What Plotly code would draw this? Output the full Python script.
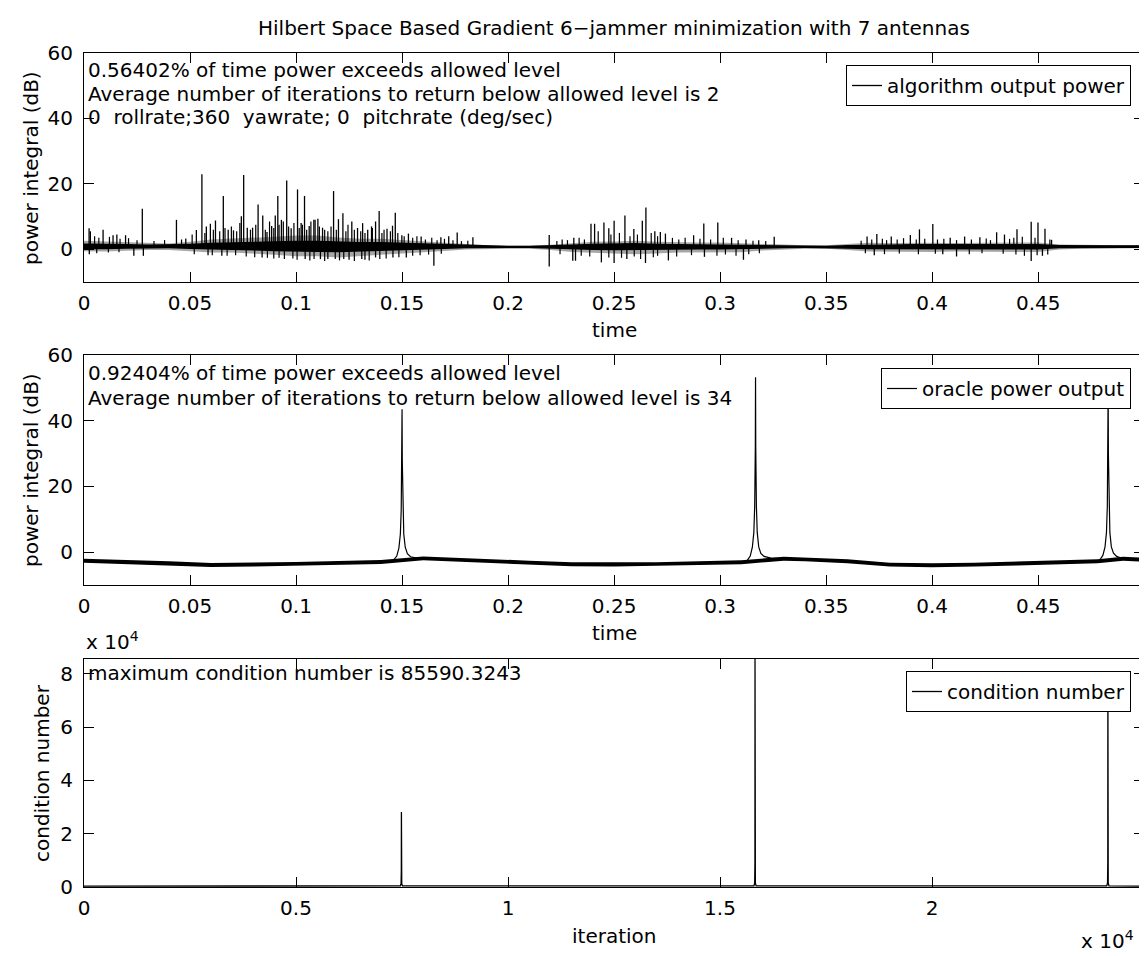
import plotly.graph_objects as go

# ---------------- data ----------------
TITLE = "Hilbert Space Based Gradient 6\u2212jammer minimization with 7 antennas"

time_ticks = [0, 0.05, 0.1, 0.15, 0.2, 0.25, 0.3, 0.35, 0.4, 0.45]
time_tick_labels = ["0", "0.05", "0.1", "0.15", "0.2", "0.25", "0.3", "0.35", "0.4", "0.45"]
power_ticks = [0, 20, 40, 60]
power_tick_labels = ["0", "20", "40", "60"]
iter_ticks = [0, 5000, 10000, 15000, 20000]
iter_tick_labels = ["0", "0.5", "1", "1.5", "2"]
cond_ticks = [0, 20000, 40000, 60000, 80000]
cond_tick_labels = ["0", "2", "4", "6", "8"]

# --- top panel: algorithm output power (dB) ---
alg_band_t = [0, 0.01, 0.02, 0.03, 0.04, 0.05, 0.06, 0.07, 0.08, 0.09,
              0.10, 0.11, 0.12, 0.13, 0.14, 0.15, 0.16, 0.17, 0.18, 0.19,
              0.20, 0.21, 0.22, 0.23, 0.24, 0.25, 0.26, 0.27, 0.28, 0.29,
              0.30, 0.31, 0.32, 0.33, 0.34, 0.35, 0.36, 0.37, 0.38, 0.39,
              0.40, 0.41, 0.42, 0.43, 0.44, 0.45, 0.46, 0.47, 0.48, 0.49, 0.4999]
alg_outer_hi = [2.6, 2.4, 2.0, 1.8, 1.8, 2.3, 3.0, 3.3, 3.5, 3.8,
                4.2, 4.2, 3.6, 3.2, 3.2, 2.8, 2.3, 1.9, 1.5, 1.2,
                1.1, 1.1, 1.4, 1.9, 2.3, 2.4, 2.6, 2.3, 2.1, 2.1,
                2.1, 1.9, 1.6, 1.3, 1.2, 1.2, 1.5, 2.0, 1.9, 2.0,
                2.0, 1.9, 1.9, 2.0, 2.1, 2.1, 1.5, 1.3, 1.3, 1.3, 1.3]
alg_outer_lo = [-0.6, -0.7, -0.4, -0.2, -0.2, -0.6, -1.0, -1.0, -1.3, -1.7,
                -2.1, -2.1, -2.5, -2.1, -1.7, -1.3, -1.0, -0.5, -0.1, 0.1,
                0.2, 0.2, -0.2, -0.8, -1.1, -1.3, -1.5, -1.3, -1.0, -0.9,
                -0.9, -0.9, -0.4, 0.0, 0.2, 0.2, -0.2, -0.7, -0.7, -0.8,
                -0.8, -0.7, -0.7, -0.7, -0.8, -0.8, -0.1, 0.2, 0.3, 0.3, 0.3]
alg_inner_hi = [1.8, 1.8, 1.6, 1.5, 1.5, 1.7, 2.0, 2.2, 2.3, 2.5,
                2.6, 2.6, 2.3, 2.2, 2.2, 2.0, 1.8, 1.6, 1.3, 1.1,
                1.1, 1.1, 1.2, 1.5, 1.7, 1.8, 1.9, 1.7, 1.6, 1.6,
                1.6, 1.5, 1.3, 1.2, 1.1, 1.1, 1.3, 1.5, 1.5, 1.6,
                1.6, 1.5, 1.5, 1.6, 1.6, 1.6, 1.3, 1.2, 1.2, 1.2, 1.2]
alg_inner_lo = [0.0, 0.0, 0.2, 0.3, 0.3, 0.1, -0.2, -0.3, -0.4, -0.6,
                -0.8, -0.8, -0.9, -0.7, -0.5, -0.3, -0.1, 0.1, 0.3, 0.4,
                0.4, 0.4, 0.3, 0.0, -0.2, -0.3, -0.4, -0.3, -0.2, -0.1,
                -0.1, -0.1, 0.1, 0.3, 0.4, 0.4, 0.2, 0.0, 0.0, -0.1,
                -0.1, 0.0, 0.0, 0.0, -0.1, -0.1, 0.3, 0.4, 0.4, 0.4, 0.4]
alg_spike_base = 0.8
# distinct spikes (upward then downward)
alg_spike_t = [0.0024, 0.003, 0.009, 0.0137, 0.0155, 0.0196, 0.0275, 0.0436, 0.048, 0.053,
               0.0556, 0.0577, 0.0596, 0.062, 0.0657, 0.068, 0.0705, 0.0742, 0.0753, 0.077,
               0.0795, 0.0821, 0.0843, 0.0863, 0.0885, 0.0902, 0.0914, 0.0931, 0.0956, 0.0977,
               0.1007, 0.1024, 0.104, 0.1062, 0.1084, 0.1103, 0.1125, 0.1177, 0.12, 0.1221,
               0.1263, 0.129, 0.1314, 0.1338, 0.1356, 0.1375, 0.1392, 0.1429, 0.1455, 0.1468,
               0.1499, 0.153, 0.159, 0.1683, 0.172, 0.176, 0.1834, 0.2194, 0.231, 0.2391,
               0.2408, 0.2452, 0.2475, 0.25, 0.2551, 0.2593, 0.2633, 0.265, 0.2692, 0.2718,
               0.2742, 0.2875, 0.2923, 0.2989, 0.3054, 0.3122, 0.3182, 0.3255, 0.3693, 0.3739,
               0.3807, 0.3897, 0.394, 0.4003, 0.4085, 0.4153, 0.4225, 0.4304, 0.4341, 0.44,
               0.4467, 0.4499, 0.4532, 0.4563,
               0.0025, 0.0235, 0.028, 0.0585, 0.065, 0.084, 0.1043, 0.1115, 0.115, 0.125,
               0.131, 0.1325, 0.1375, 0.1457, 0.152, 0.165, 0.2194, 0.2305, 0.2318, 0.244,
               0.25, 0.256, 0.2648, 0.2756, 0.2926, 0.311, 0.3727, 0.405, 0.4115, 0.4467, 0.452]
alg_spike_v = [6.4, 5.5, 6.0, 4.3, 4.5, 4.3, 12.4, 9.0, 3.3, 5.9,
               22.9, 7.0, 7.8, 8.8, 16.3, 6.0, 5.8, 10.1, 22.7, 6.6,
               6.6, 13.7, 10.3, 5.3, 7.1, 10.3, 16.3, 9.0, 21.0, 6.4,
               18.3, 8.0, 16.3, 7.1, 9.0, 9.3, 6.6, 17.8, 9.2, 11.0,
               8.5, 6.5, 8.0, 6.0, 7.0, 8.5, 11.7, 6.3, 7.2, 11.2,
               4.3, 4.8, 3.9, 3.7, 4.0, 5.1, 3.7, 4.4, 3.5, 7.8,
               7.8, 8.2, 6.4, 8.7, 10.3, 6.2, 8.7, 12.8, 5.5, 5.3,
               4.8, 4.3, 7.9, 8.2, 3.5, 3.0, 2.8, 3.8, 3.9, 4.7,
               3.9, 4.4, 6.1, 7.7, 3.5, 3.9, 3.7, 5.2, 4.5, 6.1,
               8.4, 8.2, 6.3, 2.9,
               -1.5, -2.0, -2.0, -1.8, -2.0, -2.5, -3.0, -3.0, -3.0, -3.2,
               -3.0, -3.2, -2.5, -2.5, -2.5, -5.0, -5.3, -3.5, -3.5, -4.0,
               -4.2, -3.0, -4.2, -3.4, -2.3, -3.2, -1.8, -1.5, -2.2, -3.6, -2.0]
# the dense "grass" of small excursions
alg_grass_t = [0.005, 0.007, 0.012, 0.017, 0.021, 0.025, 0.033, 0.038, 0.046, 0.051,
               0.057, 0.061, 0.064, 0.0665, 0.0695, 0.072, 0.0735, 0.0785, 0.081, 0.0855,
               0.0875, 0.0895, 0.092, 0.094, 0.0965, 0.099, 0.1015, 0.103, 0.105, 0.107,
               0.109, 0.111, 0.1135, 0.115, 0.1165, 0.119, 0.1235, 0.1245, 0.1275, 0.1305,
               0.1325, 0.136, 0.1405, 0.1415, 0.1445, 0.148, 0.151, 0.155, 0.157, 0.161,
               0.164, 0.1665, 0.170, 0.174, 0.178, 0.181, 0.223, 0.2255, 0.228, 0.2335,
               0.236, 0.2425, 0.2485, 0.2525, 0.2575, 0.261, 0.2675, 0.2705, 0.2775, 0.2805,
               0.2835, 0.2905, 0.2955, 0.3015, 0.3085, 0.3155, 0.3215, 0.3665, 0.3715, 0.3765,
               0.3785, 0.3835, 0.3865, 0.3925, 0.3965, 0.4025, 0.4055, 0.4115, 0.4185, 0.4255,
               0.4275, 0.4365, 0.4385, 0.4425, 0.4485, 0.4555,
               0.006, 0.0115, 0.0165, 0.052, 0.0605, 0.0675, 0.0715, 0.0765, 0.0805, 0.0865,
               0.0895, 0.092, 0.0945, 0.0985, 0.1005, 0.1065, 0.1085, 0.1135, 0.1185, 0.1205,
               0.1225, 0.1275, 0.1345, 0.1395, 0.1425, 0.1485, 0.155, 0.1585, 0.1625, 0.1685,
               0.2245, 0.2345, 0.2385, 0.2475, 0.2535, 0.2595, 0.2625, 0.2685, 0.2705, 0.2795,
               0.2865, 0.2985, 0.3025, 0.3075, 0.3135, 0.3185, 0.3685, 0.3775, 0.3845, 0.3935,
               0.4015, 0.4175, 0.4235, 0.4335, 0.4395, 0.4435, 0.4495, 0.4545]
alg_grass_v = [4.0, 3.5, 3.8, 3.2, 3.4, 2.8, 2.5, 2.8, 3.0, 4.5,
               5.0, 6.0, 5.5, 6.5, 7.0, 5.5, 8.0, 6.0, 7.5, 6.0,
               8.5, 6.5, 7.5, 8.5, 7.0, 8.0, 6.5, 7.5, 6.0, 8.5,
               9.0, 7.0, 6.0, 5.5, 7.0, 6.0, 5.5, 7.5, 6.0, 5.5,
               5.0, 6.5, 5.0, 6.0, 5.5, 5.0, 4.0, 3.5, 4.0, 3.0,
               3.5, 2.8, 3.2, 2.8, 2.5, 2.6, 2.5, 3.0, 2.8, 3.5,
               3.0, 5.5, 4.5, 5.0, 4.0, 4.5, 5.0, 4.0, 3.5, 3.0,
               3.5, 3.2, 3.0, 3.5, 2.8, 2.6, 2.5, 2.6, 3.0, 3.2,
               2.8, 3.0, 3.4, 3.0, 3.2, 3.0, 3.2, 2.8, 3.0, 3.3,
               2.8, 3.2, 3.5, 3.8, 3.5, 3.0,
               -1.2, -1.0, -0.9, -1.5, -1.8, -2.0, -1.8, -2.2, -2.4, -2.6,
               -2.8, -2.6, -3.0, -2.8, -3.2, -3.4, -3.0, -3.6, -3.0, -3.4,
               -3.0, -3.6, -3.4, -3.0, -2.8, -2.4, -2.0, -1.8, -1.6, -1.4,
               -1.5, -2.0, -2.2, -2.5, -2.6, -2.2, -3.0, -2.4, -2.0, -2.2,
               -1.8, -2.0, -1.6, -2.0, -1.5, -1.2, -1.2, -1.5, -1.3, -1.5,
               -1.4, -1.5, -1.2, -1.4, -1.6, -2.0, -1.8, -1.6]

# --- middle panel: oracle power output (dB) ---
oracle_t = [0, 0.02, 0.04, 0.06, 0.08, 0.10, 0.12, 0.14, 0.146, 0.1475,
            0.1485, 0.1492, 0.1496, 0.1499, 0.15, 0.1501, 0.1504, 0.1508, 0.1515, 0.1525,
            0.154, 0.157, 0.17, 0.19, 0.21, 0.23, 0.25, 0.27, 0.29, 0.31,
            0.3127, 0.3142, 0.3152, 0.3159, 0.3163, 0.3166, 0.3167, 0.3168, 0.3171, 0.3175,
            0.3182, 0.3192, 0.3207, 0.324, 0.34, 0.36, 0.38, 0.40, 0.42, 0.44,
            0.46, 0.478, 0.479, 0.4805, 0.4815, 0.4822, 0.4826, 0.4829, 0.483, 0.4831,
            0.4834, 0.4838, 0.4845, 0.4855, 0.487, 0.49, 0.4999]
oracle_v = [-2.6, -2.9, -3.4, -3.9, -3.8, -3.6, -3.3, -3.0, -2.4, -1.2,
            1.2, 5.5, 13, 28, 43.5, 28, 13, 5.5, 1.5, -0.5,
            -1.4, -1.8, -2.2, -2.7, -3.2, -3.7, -3.8, -3.7, -3.4, -3.1,
            -2.6, -1.2, 1.5, 6, 14, 32, 53.2, 32, 14, 6,
            1.6, -0.4, -1.3, -1.8, -2.2, -2.8, -3.8, -4.0, -3.8, -3.5,
            -3.2, -2.8, -2.4, -1.0, 1.5, 6, 14, 30, 50, 30,
            14, 6, 1.6, -0.3, -1.3, -2.0, -2.3]
oracle_band_t = [0, 0.02, 0.04, 0.06, 0.08, 0.10, 0.12, 0.14, 0.16, 0.17,
                 0.19, 0.21, 0.23, 0.25, 0.27, 0.29, 0.31, 0.33, 0.34, 0.36,
                 0.38, 0.40, 0.42, 0.44, 0.46, 0.478, 0.49, 0.4999]
oracle_band_hi = [-2.0, -2.3, -2.8, -3.3, -3.2, -3.0, -2.7, -2.4, -1.3, -1.6,
                  -2.1, -2.6, -3.1, -3.2, -3.1, -2.8, -2.5, -1.4, -1.6, -2.2,
                  -3.2, -3.4, -3.2, -2.9, -2.6, -2.2, -1.4, -1.7]
oracle_band_lo = [-3.2, -3.5, -4.0, -4.5, -4.4, -4.2, -3.9, -3.6, -2.5, -2.8,
                  -3.3, -3.8, -4.3, -4.4, -4.3, -4.0, -3.7, -2.6, -2.8, -3.4,
                  -4.4, -4.6, -4.4, -4.1, -3.8, -3.4, -2.6, -2.9]

# --- bottom panel: condition number vs iteration ---
cond_iter = [0, 2500, 5000, 7460, 7478, 7484, 7486, 7488, 7494, 7512,
             10000, 12500, 15800, 15818, 15824, 15826, 15828, 15834, 15852, 18000,
             21000, 24122, 24140, 24146, 24148, 24150, 24156, 24174, 25000]
cond_val = [350, 300, 350, 400, 1200, 6000, 28200, 6000, 1200, 400,
            350, 300, 400, 1500, 9000, 85590, 9000, 1500, 400, 350,
            300, 400, 1500, 9000, 81000, 9000, 1500, 400, 350]

text_top = ["0.56402% of time power exceeds allowed level",
            "Average number of iterations to return below allowed level is 2",
            "0  rollrate;360  yawrate; 0  pitchrate (deg/sec)"]
text_mid = ["0.92404% of time power exceeds allowed level",
            "Average number of iterations to return below allowed level is 34"]
text_bot = ["maximum condition number is 85590.3243"]

# ---------------- layout geometry (pixels) ----------------
W, H = 1147, 956
L, R, T, B = 76, 11, 45, 77
PW, PH = W - L - R, H - T - B


def px(x):
    return (x - L) / PW


def py(y):
    return (H - B - y) / PH


FONT = "DejaVu Sans"
FS = 20
BLACK = "#000000"

fig = go.Figure()


def spikes(ts, vs, base):
    xs, ys = [], []
    for t, v in zip(ts, vs):
        xs += [t, t, None]
        ys += [base, v, None]
    return xs, ys


# top panel
fig.add_trace(go.Scatter(x=alg_band_t + alg_band_t[::-1], y=alg_outer_hi + alg_outer_lo[::-1],
                         fill="toself", fillcolor="rgba(0,0,0,0.35)", line=dict(width=0),
                         mode="lines", showlegend=False, hoverinfo="skip", xaxis="x", yaxis="y"))
fig.add_trace(go.Scatter(x=alg_band_t + alg_band_t[::-1], y=alg_inner_hi + alg_inner_lo[::-1],
                         fill="toself", fillcolor=BLACK, line=dict(width=0),
                         mode="lines", showlegend=False, hoverinfo="skip", xaxis="x", yaxis="y"))
gx, gy = spikes(alg_grass_t, alg_grass_v, alg_spike_base)
fig.add_trace(go.Scatter(x=gx, y=gy, mode="lines", line=dict(color=BLACK, width=1.2),
                         showlegend=False, hoverinfo="skip", xaxis="x", yaxis="y"))
sx, sy = spikes(alg_spike_t, alg_spike_v, alg_spike_base)
fig.add_trace(go.Scatter(x=sx, y=sy, mode="lines", line=dict(color=BLACK, width=1.3),
                         name="algorithm output power", legend="legend", xaxis="x", yaxis="y"))

# middle panel
fig.add_trace(go.Scatter(x=oracle_band_t + oracle_band_t[::-1], y=oracle_band_hi + oracle_band_lo[::-1],
                         fill="toself", fillcolor=BLACK, line=dict(width=0),
                         mode="lines", showlegend=False, hoverinfo="skip", xaxis="x2", yaxis="y2"))
fig.add_trace(go.Scatter(x=oracle_t, y=oracle_v, mode="lines", line=dict(color=BLACK, width=1.2),
                         name="oracle power output", legend="legend2", xaxis="x2", yaxis="y2"))

# bottom panel
fig.add_trace(go.Scatter(x=cond_iter, y=cond_val, mode="lines", line=dict(color=BLACK, width=1.3),
                         name="condition number", legend="legend3", xaxis="x3", yaxis="y3"))

axis_common = dict(showline=True, linecolor=BLACK, linewidth=1, mirror="ticks",
                   ticks="inside", ticklen=10, tickwidth=1, tickcolor=BLACK,
                   showgrid=False, zeroline=False,
                   tickfont=dict(family=FONT, size=FS, color=BLACK))

dom_top = [py(274), py(45)]
dom_mid = [py(577), py(347)]
dom_bot = [py(879), py(651)]

fig.update_layout(
    width=W, height=H, autosize=False,
    margin=dict(l=L, r=R, t=T, b=B),
    paper_bgcolor="white", plot_bgcolor="white",
    font=dict(family=FONT, size=FS, color=BLACK),
    xaxis=dict(axis_common, domain=[0, 1], anchor="y", range=[0, 0.4999],
               tickvals=time_ticks, ticktext=time_tick_labels, ticklabelstandoff=3),
    yaxis=dict(axis_common, domain=dom_top, anchor="x", range=[-10, 60],
               tickvals=power_ticks, ticktext=power_tick_labels, ticklabelstandoff=6),
    xaxis2=dict(axis_common, domain=[0, 1], anchor="y2", range=[0, 0.4999],
                tickvals=time_ticks, ticktext=time_tick_labels, ticklabelstandoff=3),
    yaxis2=dict(axis_common, domain=dom_mid, anchor="x2", range=[-10, 60],
                tickvals=power_ticks, ticktext=power_tick_labels, ticklabelstandoff=6),
    xaxis3=dict(axis_common, domain=[0, 1], anchor="y3", range=[0, 25000],
                tickvals=iter_ticks, ticktext=iter_tick_labels, ticklabelstandoff=3),
    yaxis3=dict(axis_common, domain=dom_bot, anchor="x3", range=[0, 85590],
                tickvals=cond_ticks, ticktext=cond_tick_labels, ticklabelstandoff=6),
)

legend_common = dict(xref="paper", yref="paper", xanchor="right", yanchor="top",
                     bgcolor="white", bordercolor=BLACK, borderwidth=1,
                     font=dict(family=FONT, size=FS, color=BLACK))
fig.update_layout(
    legend=dict(legend_common, x=px(1123), y=py(57)),
    legend2=dict(legend_common, x=px(1123), y=py(360)),
    legend3=dict(legend_common, x=px(1123), y=py(663)),
)

ann = []


def add_text(text, x, y, xanchor="center", yanchor="middle", angle=0):
    ann.append(dict(text=text, x=x, y=y, xref="paper", yref="paper", xanchor=xanchor,
                    yanchor=yanchor, showarrow=False, textangle=angle,
                    font=dict(family=FONT, size=FS, color=BLACK)))


add_text(TITLE, 0.5, py(20))
for s, yy in zip(text_top, [62, 85.5, 109]):
    add_text(s, px(78), py(yy), xanchor="left")
for s, yy in zip(text_mid, [365, 390]):
    add_text(s, px(78), py(yy), xanchor="left")
for s, yy in zip(text_bot, [665]):
    add_text(s, px(78), py(yy), xanchor="left")

add_text("time", 0.5, py(322))
add_text("time", 0.5, py(625))
add_text("iteration", 0.5, py(928))
add_text("power integral (dB)", px(23), py(160), angle=-90)
add_text("power integral (dB)", px(23), py(462), angle=-90)
add_text("condition number", px(34), py(765), angle=-90)
add_text("x 10<sup>4</sup>", px(76), py(633), xanchor="left")
add_text("x 10<sup>4</sup>", px(1128), py(932), xanchor="right")

fig.update_layout(annotations=ann)

fig.write_html("out.html")
